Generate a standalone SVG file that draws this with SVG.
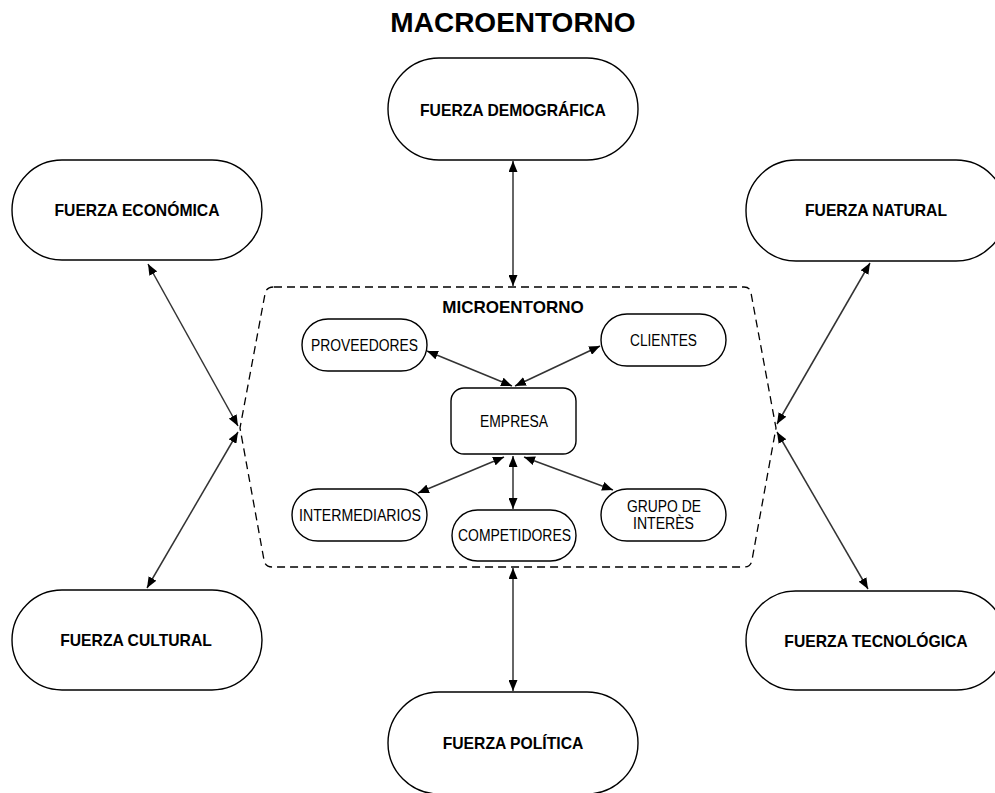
<svg xmlns="http://www.w3.org/2000/svg" width="995" height="793" viewBox="0 0 995 793">
<style>
.macro{fill:#fff;stroke:#000;stroke-width:1.4}
.micro{fill:#fff;stroke:#000;stroke-width:1.4}
.tb{font-family:"Liberation Sans",Arial,sans-serif;font-weight:bold;font-size:15.7px;fill:#000;text-anchor:middle}
.tn{font-family:"Liberation Sans",Arial,sans-serif;font-size:15.8px;fill:#000;text-anchor:middle}
.conn{fill:none;stroke:#333;stroke-width:1.5;marker-start:url(#ah);marker-end:url(#ah)}
</style>
<defs>
<marker id="ah" markerUnits="userSpaceOnUse" markerWidth="11" markerHeight="9" refX="11" refY="4.5" orient="auto-start-reverse" viewBox="0 0 11 9">
<path d="M0,0 L11,4.5 L0,9 z" fill="#000"/>
</marker>
</defs>
<rect width="995" height="793" fill="#fff"/>
<text x="513" y="32" font-family="Liberation Sans,Arial,sans-serif" font-weight="bold" font-size="28" text-anchor="middle">MACROENTORNO</text>

<g id="microentorno">
<path d="M274 287 L744 287 Q750 287 751 293 L776 428 L752 560 Q751 567 744 567 L272 567 Q265 567 264 560 L240 428 L265 294 Q266 287 274 287 Z" fill="none" stroke="#000" stroke-width="1.3" stroke-dasharray="8,5"/>
<text x="513" y="313" font-family="Liberation Sans,Arial,sans-serif" font-weight="bold" font-size="17" text-anchor="middle">MICROENTORNO</text>
</g>

<g id="connectors">
<line class="conn" x1="513" y1="161" x2="513" y2="286"/>
<line class="conn" x1="513" y1="568" x2="513" y2="691"/>
<line class="conn" x1="148" y1="264" x2="238" y2="426"/>
<line class="conn" x1="238" y1="432" x2="147" y2="588"/>
<line class="conn" x1="870" y1="263" x2="777" y2="424"/>
<line class="conn" x1="777" y1="432" x2="868" y2="589"/>
<line class="conn" x1="427" y1="351" x2="512" y2="386"/>
<line class="conn" x1="600" y1="346" x2="515" y2="386"/>
<line class="conn" x1="418" y1="493" x2="504" y2="457"/>
<line class="conn" x1="613" y1="490" x2="524" y2="457"/>
<line class="conn" x1="513" y1="456" x2="513" y2="509"/>
</g>

<g id="fuerza-demografica">
<rect class="macro" x="388" y="58" width="250" height="102" rx="51"/>
<text class="tb" x="513" y="116">FUERZA DEMOGRÁFICA</text>
</g>
<g id="fuerza-economica">
<rect class="macro" x="12" y="160" width="250" height="100" rx="50"/>
<text class="tb" x="137" y="216">FUERZA ECONÓMICA</text>
</g>
<g id="fuerza-natural">
<rect class="macro" x="746" y="160" width="260" height="101" rx="50"/>
<text class="tb" x="876" y="216">FUERZA NATURAL</text>
</g>
<g id="fuerza-cultural">
<rect class="macro" x="12" y="590" width="250" height="100" rx="50"/>
<text class="tb" x="136" y="646">FUERZA CULTURAL</text>
</g>
<g id="fuerza-tecnologica">
<rect class="macro" x="746" y="591" width="260" height="99" rx="49.5"/>
<text class="tb" x="876" y="647">FUERZA TECNOLÓGICA</text>
</g>
<g id="fuerza-politica">
<rect class="macro" x="388" y="692" width="250" height="102" rx="51"/>
<text class="tb" x="513" y="749">FUERZA POLÍTICA</text>
</g>

<g id="proveedores">
<rect class="micro" x="302" y="319" width="125" height="52" rx="26"/>
<text class="tn" x="364.5" y="351" textLength="107" lengthAdjust="spacingAndGlyphs">PROVEEDORES</text>
</g>
<g id="clientes">
<rect class="micro" x="601" y="314" width="125" height="52" rx="26"/>
<text class="tn" x="663.5" y="346" textLength="67" lengthAdjust="spacingAndGlyphs">CLIENTES</text>
</g>
<g id="empresa">
<rect class="micro" x="451" y="388" width="125" height="66" rx="13"/>
<text class="tn" x="514" y="427" textLength="68" lengthAdjust="spacingAndGlyphs">EMPRESA</text>
</g>
<g id="intermediarios">
<rect class="micro" x="292" y="489" width="135" height="52" rx="26"/>
<text class="tn" x="360" y="521" textLength="122" lengthAdjust="spacingAndGlyphs">INTERMEDIARIOS</text>
</g>
<g id="competidores">
<rect class="micro" x="452" y="510" width="124" height="51" rx="25.5"/>
<text class="tn" x="514.5" y="541" textLength="113" lengthAdjust="spacingAndGlyphs">COMPETIDORES</text>
</g>
<g id="grupo-de-interes">
<rect class="micro" x="601" y="489" width="125" height="52" rx="26"/>
<text class="tn" x="664" y="512" textLength="74" lengthAdjust="spacingAndGlyphs">GRUPO DE</text>
<text class="tn" x="663.5" y="529" textLength="61" lengthAdjust="spacingAndGlyphs">INTERÈS</text>
</g>
</svg>
